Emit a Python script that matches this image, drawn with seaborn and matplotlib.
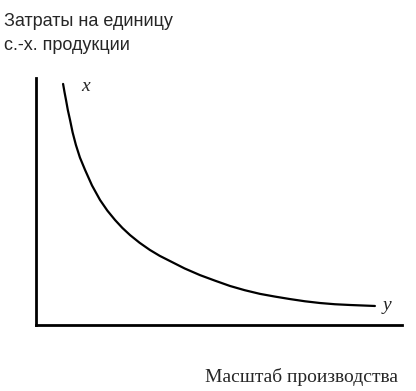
import numpy as np
import matplotlib
matplotlib.use("Agg")
import matplotlib.pyplot as plt
import pandas as pd
import seaborn as sns

# curve (axes units 0..100)
scale = [7.4, 7.8, 8.2, 8.7, 9.3, 10.0, 10.9, 12.0, 13.4, 15.3, 17.5, 19.5, 21.6, 23.6, 25.7,
         28.3, 31.1, 33.8, 36.6, 40.6, 44.8, 49.0, 53.0, 57.0, 61.2, 65.3, 69.4, 73.5,
         77.6, 81.7, 85.8, 89.2, 92.6]
cost = [97.6, 94.2, 91.1, 87.0, 83.0, 78.0, 72.9, 67.8, 62.8, 56.5, 50.6, 46.3, 42.5, 39.3, 36.4,
        33.3, 30.4, 28.0, 25.9, 22.9, 20.2, 17.9, 15.8, 14.1, 12.6, 11.5, 10.5, 9.6,
        8.9, 8.4, 8.1, 7.9, 7.7]

df = pd.DataFrame({"scale": scale, "cost": cost})

sns.set_style("white")
fig = plt.figure(figsize=(4.16, 3.91), dpi=100)
ax = fig.add_axes([36 / 416, 66 / 391, 366 / 416, 247 / 391])

sns.lineplot(data=df, x="scale", y="cost", color="black", linewidth=1.6, ax=ax)

ax.set_xlim(0, 100)
ax.set_ylim(0, 100)
ax.set_xticks([])
ax.set_yticks([])
ax.set_xlabel("")
ax.set_ylabel("")
for s in ["top", "right"]:
    ax.spines[s].set_visible(False)
for s in ["left", "bottom"]:
    ax.spines[s].set_color("black")
    ax.spines[s].set_linewidth(2)

ax.text(scale[0] + 5, cost[0] - 1, "x", fontsize=14, style="italic",
        family="Liberation Serif", ha="left", va="center")
ax.text(scale[-1] + 2, cost[-1], "y", fontsize=14, style="italic",
        family="Liberation Serif", ha="left", va="center")

fig.text(4 / 416, 1 - 22 / 391, "Затраты на единицу", fontsize=13,
         family="Liberation Sans", ha="left", va="center")
fig.text(4 / 416, 1 - 46 / 391, "с.-х. продукции", fontsize=13,
         family="Liberation Sans", ha="left", va="center")
fig.text(398 / 416, 1 - 377 / 391, "Масштаб производства", fontsize=14,
         family="Liberation Serif", ha="right", va="center")

fig.savefig("out.png", dpi=100)
